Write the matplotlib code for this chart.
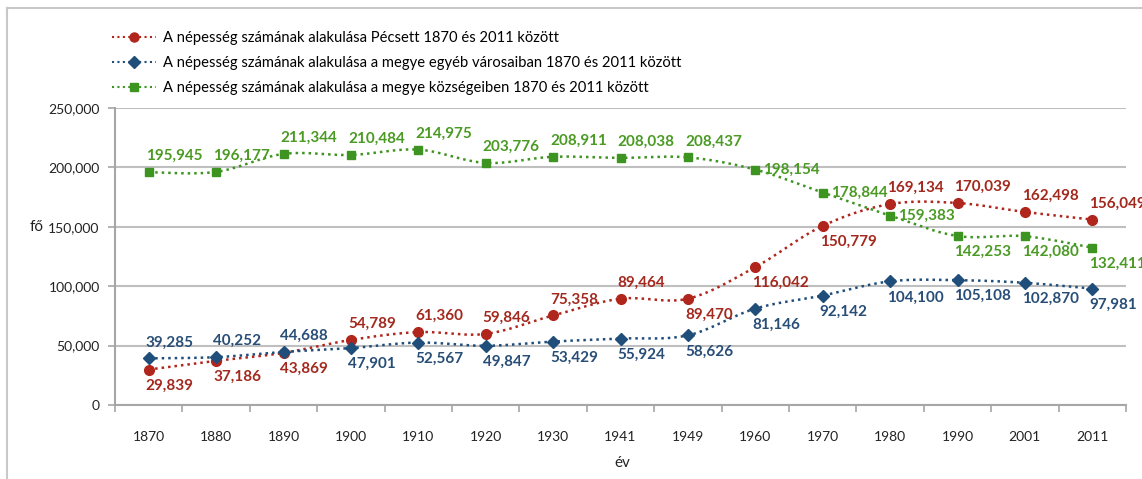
import numpy as np
import matplotlib
matplotlib.use("Agg")
import matplotlib.pyplot as plt
from matplotlib.lines import Line2D

years = ["1870", "1880", "1890", "1900", "1910", "1920", "1930", "1941", "1949",
         "1960", "1970", "1980", "1990", "2001", "2011"]
pecs = [29839, 37186, 43869, 54789, 61360, 59846, 75358, 89464, 89470,
        116042, 150779, 169134, 170039, 162498, 156049]
varosok = [39285, 40252, 44688, 47901, 52567, 49847, 53429, 55924, 58626,
           81146, 92142, 104100, 105108, 102870, 97981]
kozsegek = [195945, 196177, 211344, 210484, 214975, 203776, 208911, 208038, 208437,
            198154, 178844, 159383, 142253, 142080, 132411]
labels = ["A népesség számának alakulása Pécsett 1870 és 2011 között",
          "A népesség számának alakulása a megye egyéb városaiban 1870 és 2011 között",
          "A népesség számának alakulása a megye községeiben 1870 és 2011 között"]

RED, RED_T = "#B0261C", "#A3281D"
BLUE, BLUE_T = "#1F4E7A", "#284E77"
GREEN, GREEN_T = "#3E9420", "#4A9A24"

# label placement per point: +1 above, -1 below, 0 right-mid
pecs_pos = [-1, -1, -1, 1, 1, 1, 1, 1, -1, -1, -1, 1, 1, 1, 1]
var_pos = [1, 1, 1, -1, -1, -1, -1, -1, -1, -1, -1, -1, -1, -1, -1]
koz_pos = [1, 1, 1, 1, 1, 1, 1, 1, 1, 0, 0, 0, -1, -1, -1]

plt.rcParams['font.family'] = ['Lato', 'DejaVu Sans']

fig = plt.figure(figsize=(11.42, 4.79), dpi=100)
W, H = 1142, 479
ax = fig.add_axes([115 / W, 1 - 405 / H, (1126 - 115) / W, (405 - 108) / H])

x = np.arange(len(years))


def smooth(xs, ys, n=20):
    xs = np.asarray(xs, float)
    ys = np.asarray(ys, float)
    px = np.concatenate([[xs[0]], xs, [xs[-1]]])
    py = np.concatenate([[ys[0]], ys, [ys[-1]]])
    ox, oy = [], []
    t = np.linspace(0, 1, n)
    for i in range(1, len(px) - 2):
        p0 = np.array([px[i], py[i]])
        p3 = np.array([px[i + 1], py[i + 1]])
        c1 = p0 + (np.array([px[i + 1], py[i + 1]]) - np.array([px[i - 1], py[i - 1]])) / 6
        c2 = p3 - (np.array([px[i + 2], py[i + 2]]) - np.array([px[i], py[i]])) / 6
        b = ((1 - t) ** 3)[:, None] * p0 + (3 * (1 - t) ** 2 * t)[:, None] * c1 + \
            (3 * (1 - t) * t ** 2)[:, None] * c2 + (t ** 3)[:, None] * p3
        ox.extend(b[:, 0])
        oy.extend(b[:, 1])
    return ox, oy


series = [
    (pecs, RED, RED_T, 'o', 7.0, pecs_pos),
    (varosok, BLUE, BLUE_T, 'D', 6.5, var_pos),
    (kozsegek, GREEN, GREEN_T, 's', 6.3, koz_pos),
]

for vals, c, ct, m, ms, pos in series:
    sx, sy = smooth(x, vals)
    ax.plot(sx, sy, color=c, lw=1.8, ls=(0, (1, 1.6)), zorder=3)
    ax.plot(x, vals, ls='none', marker=m, ms=ms, color=c, mec=c, zorder=4)
    for xi, v, p in zip(x, vals, pos):
        if p == 1:
            off = (-3, 9)
            va = 'bottom'
        elif p == -1:
            off = (-3, -9)
            va = 'top'
        else:
            off = (8, 0)
            va = 'center'
        ax.annotate(f"{v:,}", (xi, v), xytext=off, textcoords='offset pixels',
                    ha='left', va=va, color=ct, fontsize=11, fontweight='bold',
                    zorder=5)

ax.set_xlim(-0.5, len(years) - 0.5)
ax.set_ylim(0, 250000)
ax.set_yticks(np.arange(0, 250001, 50000))
ax.set_yticklabels([f"{v:,}" for v in range(0, 250001, 50000)])
ax.set_xticks(x)
ax.set_xticklabels(years)
ax.set_xticks(np.arange(-0.5, len(years), 1), minor=True)
ax.tick_params(axis='x', which='major', length=0, pad=19, labelsize=10, colors='#222222')
ax.tick_params(axis='x', which='minor', length=5, width=1.2, color='#A6A6A6')
ax.tick_params(axis='y', length=5, width=1.2, color='#A6A6A6', labelsize=10,
               labelcolor='#222222', pad=6)
ax.grid(axis='y', color='#BFBFBF', lw=1.5, zorder=0)
for s in ['top', 'right']:
    ax.spines[s].set_visible(False)
for s in ['left', 'bottom']:
    ax.spines[s].set_color('#A6A6A6')
    ax.spines[s].set_linewidth(1.5)

fig.text(30 / W, 1 - 227 / H, "fő", fontsize=11, ha='left', va='center', color='#222222')
fig.text(622 / W, 1 - 463 / H, "év", fontsize=11, ha='center', va='center', color='#222222')

handles = [Line2D([0], [0], color=c, lw=1.5, ls=(0, (1, 1.6)), marker=m, ms=ms - 0.5,
                  mec=c, mfc=c) for _, c, _, m, ms, _ in series]
fig.legend(handles, labels, loc='upper left', bbox_to_anchor=(106 / W, 1 - 25 / H),
           frameon=False, fontsize=10.6, handlelength=3.0, handletextpad=0.45,
           labelspacing=0.75, borderaxespad=0)

# chart frame (partial, as in the reference)
fig.add_artist(Line2D([7 / W, 7 / W], [0, 1 - 8 / H], color='#C8C8C8', lw=1.5,
                      transform=fig.transFigure))
fig.add_artist(Line2D([7 / W, 1], [1 - 8 / H, 1 - 8 / H], color='#C8C8C8', lw=1.5,
                      transform=fig.transFigure))

fig.savefig("out.png", dpi=100)
